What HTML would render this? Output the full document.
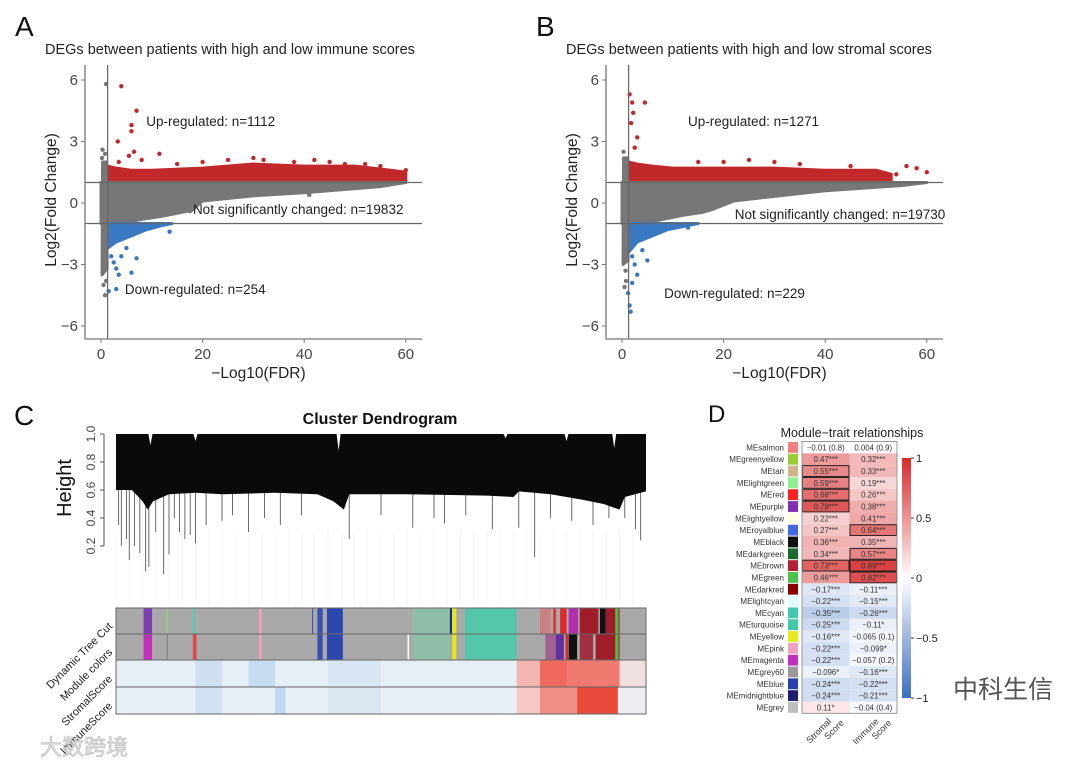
<!DOCTYPE html>
<html><head><meta charset="utf-8"><style>
body{margin:0;background:#fff;}
svg{display:block;font-family:"Liberation Sans","Noto Sans CJK SC",sans-serif;}
</style></head><body>
<svg width="1080" height="766" viewBox="0 0 1080 766">
<g id="pA"></g>
<g id="pB"></g>
<g id="pC"></g>
<g id="pD"></g>
<text x="953" y="698" font-size="25" fill="#555">中科生信</text>
<text x="40" y="755" font-size="22" fill="#ddd" stroke="#bbb" stroke-width="0.6">大数跨境</text>
</svg>
<script>
// ---------- Volcano data ----------
const xTicks=[0,20,40,60];
const yTicks=[6,3,0,-3,-6];
const thrFC=[1,-1];
const thrFDR=1.3;
// Panel A
const aTitle="DEGs between patients with high and low immune scores";
const aUpTop=[[1.3,1.8],[3,1.7],[6,1.6],[10,1.6],[20,1.7],[30,1.9],[40,1.8],[50,1.8],[57,1.6],[60,1.5],[60,1.0]];
const aGrayBot=[[0,-1],[4,-1],[8,-0.8],[12,-0.65],[15,-0.5],[18,-0.35],[20,0.1],[30,0.35],[40,0.5],[55,0.8],[60,1]];
const aDownBot=[[1.3,-2.2],[3,-1.9],[6,-1.6],[9,-1.3],[12,-1.1],[14,-1]];
const aSpike=[[0.2,-3.5],[0.3,2.0],[1.1,2.0],[1.2,-3.2]];
const aUpPts=[[4,5.7],[7,4.5],[6,3.8],[6,3.5],[3.3,3.0],[6.5,2.5],[5.5,2.3],[11.5,2.4],[3.5,2.0],[8,2.1],[60,1.6],[59,1.5],[57,1.4],[25,2.1],[30,2.2],[32,2.1],[38,2.0],[42,2.1],[45,2.0],[48,1.9],[20,2.0],[15,1.9],[52,1.9],[55,1.8]];
const aGrayPts=[[1,5.8],[0.8,-4.5],[0.5,-4.0],[41,0.4],[17.5,-0.4],[0.3,2.6],[0.8,2.4],[1,-3.8],[0.6,-3.3],[0.2,2.2]];
const aDownPts=[[1.5,-4.3],[3,-4.2],[3.5,-3.5],[6,-3.4],[3,-3.2],[7,-2.7],[13.5,-1.4],[4,-2.6],[2,-2.6],[5,-2.2],[2.5,-2.9]];
const aLabels=[["Up-regulated: n=1112",8.9,4.0],["Not significantly changed: n=19832",18.1,-0.3],["Down-regulated: n=254",4.7,-4.2]];
// Panel B
const bTitle="DEGs between patients with high and low stromal scores";
const bUpTop=[[1.3,2.0],[3,1.9],[6,1.8],[10,1.7],[20,1.7],[30,1.7],[40,1.6],[50,1.6],[53,1.4],[53,1.0]];
const bGrayBot=[[0,-1],[4,-1],[8,-0.8],[12,-0.6],[16,-0.45],[18,-0.3],[22,0.1],[40,0.6],[55,0.85],[60,1]];
const bDownBot=[[1.3,-2.4],[3,-1.9],[6,-1.6],[9,-1.3],[13,-1.1],[15,-1]];
const bSpike=[[0.2,-3.0],[0.3,2.2],[1.1,2.2],[1.2,-2.8]];
const bUpPts=[[1.5,5.3],[2,4.9],[4.5,4.9],[2.2,4.4],[1.8,3.9],[3,3.2],[2.5,2.7],[60,1.5],[58,1.7],[56,1.8],[54,1.4],[20,2.0],[25,2.1],[30,2.0],[35,1.9],[45,1.8],[15,2.0]];
const bGrayPts=[[0.5,-4.1],[0.8,-3.8],[0.3,2.5],[0.7,-3.3]];
const bDownPts=[[1.7,-5.3],[1.5,-5.0],[1.2,-4.4],[2,-3.9],[3,-3.5],[2.5,-3.0],[5,-2.8],[13,-1.2],[2,-2.6],[4,-2.3]];
const bLabels=[["Up-regulated: n=1271",13,4.0],["Not significantly changed: n=19730",22.2,-0.54],["Down-regulated: n=229",8.3,-4.4]];

const NS="http://www.w3.org/2000/svg";
function mk(parent,tag,attrs,txt){const e=document.createElementNS(NS,tag);for(const k in attrs)e.setAttribute(k,attrs[k]);if(txt!==undefined)e.textContent=txt;parent.appendChild(e);return e;}

function volcano(g,x0,title,letter,upTop,grayBot,downBot,spike,upPts,grayPts,downPts,labels){
  const X=v=>x0+v*5.08, Y=v=>203-v*20.5;
  const left=x0-16,right=x0+321,top=65,bot=339;
  let t=mk(g,'text',{x:x0-86,y:36,'font-size':28,fill:'#111'},letter);
  
  t=mk(g,'text',{x:x0-56,y:54,'font-size':14.5,fill:'#222'},title);
  
  const poly=(pts,fill,name)=>{const p=mk(g,'polygon',{points:pts.map(q=>X(q[0])+','+Y(q[1])).join(' '),fill:fill,stroke:fill,'stroke-width':3,'stroke-linejoin':'round'});
    };
  poly(upTop.concat([[thrFDR,1]]),'#c0282a','up-regulated-band');
  poly([[0,1]].concat(grayBot),'#777','not-significant-band');
  poly([[thrFDR,-1]].concat(downBot),'#3a78c2','down-regulated-band');
  poly(spike,'#777','low-fdr-spread');
  const dots=(pts,fill,name)=>pts.forEach(q=>{const c=mk(g,'circle',{cx:X(q[0]),cy:Y(q[1]),r:2.2,fill:fill});
    });
  dots(upPts,'#c0282a','up-point');dots(grayPts,'#777','ns-point');dots(downPts,'#3a78c2','down-point');
  thrFC.forEach(v=>{const l=mk(g,'line',{x1:left,x2:right,y1:Y(v),y2:Y(v),stroke:'#666','stroke-width':1.2});
    });
  let l=mk(g,'line',{x1:X(thrFDR),x2:X(thrFDR),y1:top,y2:bot,stroke:'#666','stroke-width':1.2});
  
  l=mk(g,'polyline',{points:`${left},${top} ${left},${bot} ${right},${bot}`,fill:'none',stroke:'#777','stroke-width':1.3});
  
  xTicks.forEach(v=>{mk(g,'line',{x1:X(v),x2:X(v),y1:bot,y2:bot+4,stroke:'#777'});
    const tt=mk(g,'text',{x:X(v),y:bot+20,'font-size':15,fill:'#444','text-anchor':'middle'},v);
    });
  yTicks.forEach(v=>{mk(g,'line',{x1:left-4,x2:left,y1:Y(v),y2:Y(v),stroke:'#777'});
    const tt=mk(g,'text',{x:left-7,y:Y(v)+5,'font-size':15,fill:'#444','text-anchor':'end'},v<0?'−'+(-v):v);
    });
  t=mk(g,'text',{x:X(31),y:378,'font-size':15.5,fill:'#222','text-anchor':'middle'},'−Log10(FDR)');
  
  t=mk(g,'text',{x:0,y:0,'font-size':15.5,fill:'#222','text-anchor':'middle',transform:`translate(${x0-45},200) rotate(-90)`},'Log2(Fold Change)');
  
  labels.forEach(a=>{const tt=mk(g,'text',{x:X(a[1]),y:Y(a[2])+5,'font-size':13.5,fill:'#222'},a[0]);
    });
}
volcano(document.getElementById('pA'),101,aTitle,'A',aUpTop,aGrayBot,aDownBot,aSpike,aUpPts,aGrayPts,aDownPts,aLabels);
volcano(document.getElementById('pB'),622,bTitle,'B',bUpTop,bGrayBot,bDownBot,bSpike,bUpPts,bGrayPts,bDownPts,bLabels);

// ---------- Dendrogram data ----------
const dendTicks=[0.2,0.4,0.6,0.8,1.0];
const dendBottom=[[0,0.6],[0.03,0.6],[0.05,0.52],[0.06,0.46],[0.07,0.52],[0.1,0.57],[0.15,0.58],[0.2,0.57],[0.3,0.58],[0.38,0.57],[0.41,0.52],[0.43,0.46],[0.44,0.57],[0.55,0.57],[0.7,0.56],[0.75,0.55],[0.76,0.59],[0.82,0.57],[0.88,0.53],[0.92,0.5],[0.95,0.46],[0.96,0.55],[1,0.59]];
const dendDrops=[[0.005,0.35],[0.01,0.2],[0.02,0.25],[0.025,0.1],[0.035,0.2],[0.045,0.15],[0.056,0.02],[0.062,0.05],[0.075,0.3],[0.09,0.0],[0.1,0.14],[0.11,0.4],[0.12,0.3],[0.13,0.25],[0.14,0.28],[0.15,0.22],[0.17,0.35],[0.2,0.38],[0.22,0.42],[0.25,0.3],[0.28,0.4],[0.31,0.35],[0.35,0.42],[0.44,0.25],[0.5,0.42],[0.56,0.33],[0.6,0.4],[0.62,0.36],[0.66,0.42],[0.71,0.32],[0.76,0.33],[0.79,0.12],[0.82,0.4],[0.86,0.38],[0.9,0.35],[0.93,0.4],[0.96,0.4],[0.98,0.32],[0.99,0.24]];
const dendTopNotches=[[0.065,0.92],[0.15,0.95],[0.42,0.88],[0.735,0.97],[0.85,0.95],[0.94,0.9]];
const rowTree=[[0,1,'#a9a9a9'],[0.052,0.068,'#7b3fb0'],[0.095,0.098,'#8fd17a'],[0.145,0.15,'#5ecbb0'],[0.27,0.275,'#f0a0c0'],[0.37,0.372,'#3a50b0'],[0.38,0.39,'#3a50b0'],[0.398,0.428,'#2c48ad'],[0.56,0.63,'#8fbfa8'],[0.63,0.634,'#1a2a80'],[0.634,0.642,'#e6e61e'],[0.658,0.756,'#55c6aa'],[0.8,0.82,'#c88080'],[0.825,0.83,'#e03030'],[0.838,0.85,'#e02828'],[0.854,0.872,'#b030b0'],[0.875,0.91,'#a01c28'],[0.913,0.924,'#111'],[0.924,0.95,'#a01c28'],[0.942,0.948,'#4ac040']];
const rowModule=[[0,1,'#a9a9a9'],[0.052,0.068,'#c030b8'],[0.095,0.098,'#8a8a8a'],[0.145,0.152,'#e04848'],[0.27,0.275,'#f0a0c0'],[0.38,0.39,'#3a50b0'],[0.398,0.428,'#2c48ad'],[0.55,0.553,'#fff'],[0.56,0.63,'#8fbfa8'],[0.634,0.642,'#e6e61e'],[0.658,0.756,'#55c6aa'],[0.81,0.83,'#a06090'],[0.83,0.845,'#6030a0'],[0.848,0.853,'#e02828'],[0.854,0.87,'#111'],[0.875,0.9,'#a03040'],[0.905,0.95,'#a01c28'],[0.942,0.948,'#4ac040']];
const rowStromal=[[0,1,'#e6eef6'],[0.15,0.2,'#cfe0f0'],[0.25,0.3,'#c6dcf0'],[0.4,0.5,'#d8e6f3'],[0.756,0.8,'#f4b4b0'],[0.8,0.85,'#ee6a5e'],[0.85,0.95,'#f07a70'],[0.95,1,'#f0e0e0']];
const rowImmune=[[0,1,'#e8eff6'],[0.15,0.2,'#d0e2f2'],[0.3,0.32,'#c0d8f0'],[0.4,0.5,'#dbe8f4'],[0.756,0.8,'#f6c8c4'],[0.8,0.87,'#f08e84'],[0.87,0.947,'#e84a3c'],[0.947,1,'#eceef2']];
const rowNames=["Dynamic Tree Cut","Module colors","StromalScore","ImmuneScore"];

(function(){
  const g=document.getElementById('pC');
  const L=116,R=646,W=R-L,Y=h=>434+(1-h)*140;
  let t=mk(g,'text',{x:14,y:425,'font-size':28,fill:'#111'},'C');
  t=mk(g,'text',{x:380,y:424,'font-size':16,'font-weight':'bold',fill:'#111','text-anchor':'middle'},'Cluster Dendrogram');
  
  for(let i=0;i<40;i++){mk(g,'line',{x1:L+i*W/40,x2:L+i*W/40,y1:530,y2:606,stroke:'#f0f0f0','stroke-width':0.6});}
  dendDrops.forEach(d=>{const l=mk(g,'line',{x1:L+d[0]*W,x2:L+d[0]*W,y1:Y(0.6),y2:Y(d[1]),stroke:'#444','stroke-width':0.8});
    });
  const pts=[[L,Y(1)],[R,Y(1)]].concat(dendBottom.slice().reverse().map(p=>[L+p[0]*W,Y(p[1])]));
  let p=mk(g,'polygon',{points:pts.map(q=>q.join(',')).join(' '),fill:'#0a0a0a'});
  
  dendTopNotches.forEach(n=>{const x=L+n[0]*W;const q=mk(g,'polygon',{points:`${x-2},${Y(1)} ${x+2},${Y(1)} ${x},${Y(n[1])}`,fill:'#fff'});
    });
  mk(g,'line',{x1:104,x2:104,y1:Y(1),y2:Y(0.2),stroke:'#555'});
  dendTicks.forEach(v=>{mk(g,'line',{x1:100,x2:104,y1:Y(v),y2:Y(v),stroke:'#555'});
    const tt=mk(g,'text',{x:0,y:0,'font-size':12,fill:'#444','text-anchor':'middle',transform:`translate(95,${Y(v)}) rotate(-90)`},v.toFixed(1));
    });
  t=mk(g,'text',{x:0,y:0,'font-size':20,fill:'#111','text-anchor':'middle',transform:'translate(71,488) rotate(-90)'},'Height');
  
  const rows=[rowTree,rowModule,rowStromal,rowImmune],ys=[608,634,660,687],hs=[26,26,27,27];
  rows.forEach((r,i)=>{r.forEach(s=>{const e=mk(g,'rect',{x:L+s[0]*W,y:ys[i],width:Math.max(0.8,(s[1]-s[0])*W),height:hs[i],fill:s[2]});
      });
    const b=mk(g,'rect',{x:L,y:ys[i],width:W,height:hs[i],fill:'none',stroke:'#666','stroke-width':1});
    
    const tt=mk(g,'text',{x:0,y:0,'font-size':11,fill:'#222','text-anchor':'end',transform:`translate(${L-3},${ys[i]+hs[i]/2+6}) rotate(-45)`},rowNames[i]);
    });
})();

// ---------- Heatmap data ----------
const modules=["MEsalmon","MEgreenyellow","MEtan","MElightgreen","MEred","MEpurple","MElightyellow","MEroyalblue","MEblack","MEdarkgreen","MEbrown","MEgreen","MEdarkred","MElightcyan","MEcyan","MEturquoise","MEyellow","MEpink","MEmagenta","MEgrey60","MEblue","MEmidnightblue","MEgrey"];
const moduleColors=["#f08080","#9acd32","#d2b48c","#90ee90","#ff2020","#8030b0","#ffffe0","#4169e1","#111111","#1a6b2a","#b22234","#4cc24c","#8b0000","#e0ffff","#40c8b0","#40c8a8","#e8e820","#f0a0c0","#c030c0","#999999","#2a40b0","#1e1e70","#bebebe"];
const stromal=[-0.01,0.47,0.55,0.59,0.68,0.78,0.22,0.27,0.36,0.34,0.73,0.46,-0.17,-0.22,-0.35,-0.25,-0.16,-0.22,-0.22,-0.096,-0.24,-0.24,0.11];
const stromalTxt=["−0.01 (0.8)","0.47***","0.55***","0.59***","0.68***","0.78***","0.22***","0.27***","0.36***","0.34***","0.73***","0.46***","−0.17***","−0.22***","−0.35***","−0.25***","−0.16***","−0.22***","−0.22***","−0.096*","−0.24***","−0.24***","0.11*"];
const immune=[0.004,0.32,0.33,0.19,0.26,0.38,0.41,0.64,0.35,0.57,0.89,0.82,-0.11,-0.15,-0.26,-0.11,-0.065,-0.099,-0.057,-0.16,-0.22,-0.21,-0.04];
const immuneTxt=["0.004 (0.9)","0.32***","0.33***","0.19***","0.26***","0.38***","0.41***","0.64***","0.35***","0.57***","0.89***","0.82***","−0.11***","−0.15***","−0.26***","−0.11*","−0.065 (0.1)","−0.099*","−0.057 (0.2)","−0.16***","−0.22***","−0.21***","−0.04 (0.4)"];
const boxedS=[2,3,4,5,10], boxedI=[7,9,10,11];
const cbTicks=[1,0.5,0,-0.5,-1];

(function(){
  const g=document.getElementById('pD');
  const top=441.5,rh=11.82,c0=802,cw=47.5;
  const col=v=>{const a=Math.min(1,Math.abs(v));
    const [r,gg,b]=v>=0?[215,40,40]:[60,110,190];
    const m=(x)=>Math.round(255+(x-255)*a);return `rgb(${m(r)},${m(gg)},${m(b)})`;};
  let t=mk(g,'text',{x:708,y:422,'font-size':24,fill:'#111'},'D');
  t=mk(g,'text',{x:852,y:437,'font-size':12.5,fill:'#222','text-anchor':'middle'},'Module−trait relationships');
  
  modules.forEach((m,i)=>{const y=top+i*rh;
    let e=mk(g,'text',{x:784,y:y+rh/2+3,'font-size':8,fill:'#333','text-anchor':'end'},m);
    e=mk(g,'rect',{x:788,y:y+0.5,width:10,height:rh-1,fill:moduleColors[i]});
    [[stromal,stromalTxt,boxedS],[immune,immuneTxt,boxedI]].forEach((s,j)=>{
      e=mk(g,'rect',{x:c0+j*cw,y:y,width:cw,height:rh,fill:col(s[0][i])});
      if(s[2].includes(i)){e=mk(g,'rect',{x:c0+j*cw+0.5,y:y+0.5,width:cw-1,height:rh-1,fill:'none',stroke:'#222','stroke-width':1});}
      e=mk(g,'text',{x:c0+j*cw+cw/2,y:y+rh/2+3,'font-size':7.8,fill:'#333','text-anchor':'middle'},s[1][i]);
    });});
  let e=mk(g,'rect',{x:c0,y:top,width:2*cw,height:modules.length*rh,fill:'none',stroke:'#999'});
  const defs=mk(g,'defs',{});const lg=mk(defs,'linearGradient',{id:'cbg',x1:0,y1:0,x2:0,y2:1});
  [[0,'#d62a2a'],[0.5,'#ffffff'],[1,'#3c6ebe']].forEach(s=>mk(lg,'stop',{offset:s[0],'stop-color':s[1]}));
  const cy=v=>578-v*120;
  e=mk(g,'rect',{x:902,y:cy(1),width:9,height:240,fill:'url(#cbg)'});
  cbTicks.forEach(v=>{mk(g,'line',{x1:911,x2:914,y1:cy(v),y2:cy(v),stroke:'#333'});
    const tt=mk(g,'text',{x:916,y:cy(v)+4,'font-size':11,fill:'#222'},v<0?'−'+(-v):v);});
  [["Stromal","Score",c0+cw/2],["Immune","Score",c0+cw*1.5]].forEach(a=>{
    const tt=mk(g,'text',{x:0,y:0,'font-size':9,fill:'#333','text-anchor':'end',transform:`translate(${a[2]+6},${722}) rotate(-45)`});
    
    mk(tt,'tspan',{x:0,dy:0},a[0]);mk(tt,'tspan',{x:8,dy:10},a[1]);});
})();
</script>
</body></html>
